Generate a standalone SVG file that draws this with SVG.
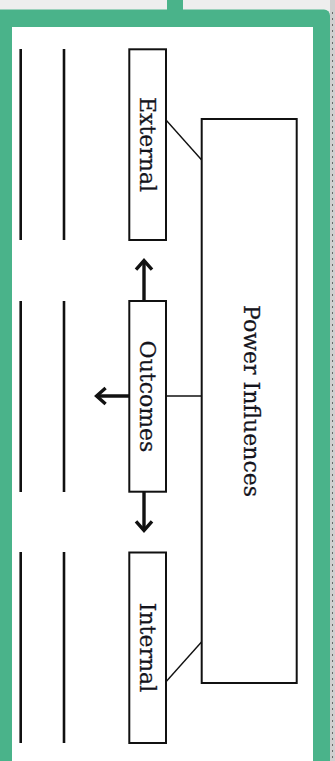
<svg xmlns="http://www.w3.org/2000/svg" width="335" height="761" viewBox="0 0 335 761">
  <defs>
    <style>
      .box { fill: #ffffff; stroke: #111111; stroke-width: 2; }
      .rule { stroke: #111111; stroke-width: 2.6; }
      .thin { stroke: #111111; stroke-width: 1.4; fill: none; }
      .arrow { stroke: #111111; stroke-width: 3.4; fill: none; marker-end: url(#chev); }
      .lbl { font-family: "DejaVu Serif", "Liberation Serif", serif; font-size: 22px; fill: #14141c; text-anchor: middle; stroke: #14141c; stroke-width: 0.25; }
    </style>
    <marker id="chev" viewBox="-12 -10 16 20" markerWidth="16" markerHeight="20" refX="0" refY="0" orient="auto" markerUnits="userSpaceOnUse">
      <path d="M -9 -8 L 0 0 L -9 8" fill="none" stroke="#111111" stroke-width="3.4" stroke-linejoin="miter"/>
    </marker>
  </defs>

  <!-- window background behind the frame -->
  <rect x="0" y="0" width="335" height="761" fill="#eeeeee"/>
  <rect x="167" y="0" width="16" height="10" fill="#4ab38a"/>
  <rect x="330" y="0" width="5" height="761" fill="#cfcfcf"/>
  <line x1="332.5" y1="12" x2="332.5" y2="761" stroke="#6a6a6a" stroke-width="1" stroke-dasharray="2 4"/>

  <!-- green frame and white page -->
  <rect x="-10" y="9.5" width="340" height="780" rx="6" fill="#4ab38a"/>
  <rect x="12" y="27" width="301" height="734" fill="#ffffff"/>

  <!-- ruled lines at the left -->
  <g id="rules">
    <line class="rule" x1="20.7" y1="49" x2="20.7" y2="240"/>
    <line class="rule" x1="64" y1="49" x2="64" y2="240"/>
    <line class="rule" x1="20.7" y1="301" x2="20.7" y2="492"/>
    <line class="rule" x1="64" y1="301" x2="64" y2="492"/>
    <line class="rule" x1="20.7" y1="552" x2="20.7" y2="743"/>
    <line class="rule" x1="64" y1="552" x2="64" y2="743"/>
  </g>

  <!-- connectors -->
  <g id="connectors">
    <line class="thin" x1="166" y1="120" x2="201.7" y2="160"/>
    <line class="thin" x1="201.7" y1="641.7" x2="166" y2="681.7"/>
    <line class="thin" x1="166" y1="396" x2="201.7" y2="396"/>
    <line class="arrow" x1="144" y1="301" x2="144" y2="260.6"/>
    <line class="arrow" x1="144" y1="492" x2="144" y2="530.4"/>
    <line class="arrow" x1="129" y1="396" x2="96.6" y2="396"/>
  </g>

  <g id="power">
    <rect class="box" x="201.7" y="119" width="95" height="564"/>
    <text class="lbl" transform="translate(244,401) rotate(90)">Power Influences</text>
  </g>

  <g id="external">
    <rect class="box" x="129.3" y="49.3" width="36.7" height="190.7"/>
    <text class="lbl" transform="translate(139.5,144.5) rotate(90)">External</text>
  </g>

  <g id="outcomes">
    <rect class="box" x="129.3" y="301" width="36.7" height="190.7"/>
    <text class="lbl" transform="translate(139.5,396.5) rotate(90)">Outcomes</text>
  </g>

  <g id="internal">
    <rect class="box" x="129.3" y="552.5" width="36.7" height="190.5"/>
    <text class="lbl" transform="translate(139.5,647.5) rotate(90)">Internal</text>
  </g>
</svg>
